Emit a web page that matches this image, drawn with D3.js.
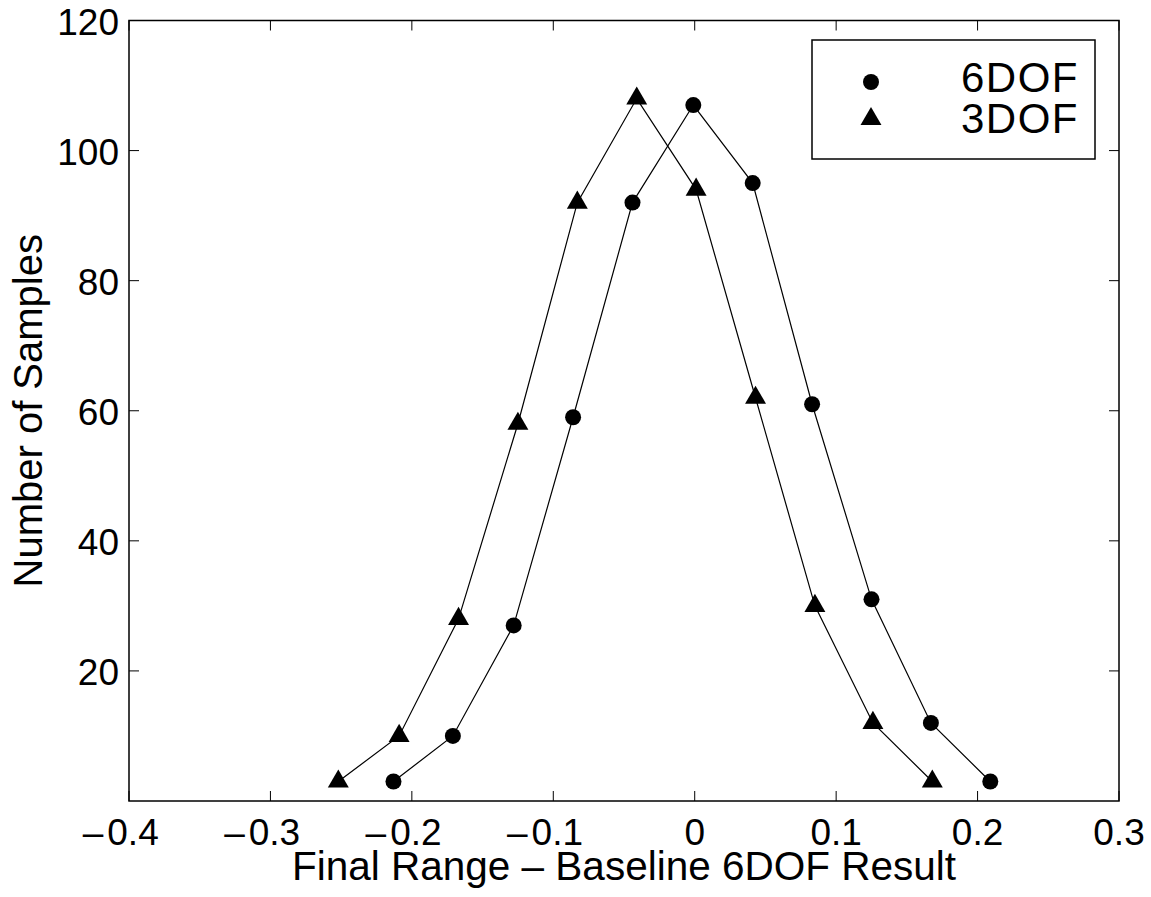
<!DOCTYPE html>
<html>
<head>
<meta charset="utf-8">
<script src="https://cdn.jsdelivr.net/npm/d3@7"></script>
<style>
  html, body { margin: 0; padding: 0; background: #fff; }
  svg { display: block; font-family: "Liberation Sans", Arial, Helvetica, sans-serif; }
</style>
</head>
<body>
<svg id="chart" width="1151" height="897"></svg>
<script>
// Histogram bin centres and counts for the two simulation models
const x6dof = [-0.213, -0.171, -0.128, -0.086, -0.044, -0.001, 0.041, 0.083, 0.125, 0.167, 0.209];
const y6dof = [3, 10, 27, 59, 92, 107, 95, 61, 31, 12, 3];
const x3dof = [-0.252, -0.209, -0.167, -0.125, -0.083, -0.041, 0.001, 0.043, 0.085, 0.126, 0.168];
const y3dof = [3, 10, 28, 58, 92, 108, 94, 62, 30, 12, 3];

const xTicks = [-0.4, -0.3, -0.2, -0.1, 0, 0.1, 0.2, 0.3];
const yTicks = [20, 40, 60, 80, 100, 120];
const seriesNames = ["6DOF", "3DOF"];

const svg = d3.select("#chart");
const L = 129, R = 1119, T = 20.5, B = 801;

const x = d3.scaleLinear().domain([-0.4, 0.3]).range([L, R]);
const y = d3.scaleLinear().domain([0, 120]).range([B, T]);

const tickLen = 10;
const numPart = v => (v === 0 ? "0" : d3.format(".1f")(Math.abs(v)));

// frame ticks (inward on all four sides)
const g = svg.append("g");
xTicks.forEach(v => {
  g.append("line").attr("x1", x(v)).attr("x2", x(v)).attr("y1", B).attr("y2", B - tickLen)
    .attr("stroke", "#000").attr("stroke-width", 1);
  g.append("line").attr("x1", x(v)).attr("x2", x(v)).attr("y1", T).attr("y2", T + tickLen)
    .attr("stroke", "#000").attr("stroke-width", 1);
  // the number is centred on the tick; a leading dash hangs to its left
  const t = g.append("text").attr("y", 845).attr("font-size", 37);
  if (v < 0) t.append("tspan").attr("dx", 0).text("\u2013");
  const num = t.append("tspan").attr("dx", v < 0 ? 4 : 0).text(numPart(v));
  const full = t.node().getComputedTextLength();
  const nl = num.node().getComputedTextLength();
  t.attr("x", x(v) - (full - nl) - nl / 2);
});
yTicks.forEach(v => {
  g.append("line").attr("x1", L).attr("x2", L + tickLen).attr("y1", y(v)).attr("y2", y(v))
    .attr("stroke", "#000").attr("stroke-width", 1);
  g.append("line").attr("x1", R).attr("x2", R - tickLen).attr("y1", y(v)).attr("y2", y(v))
    .attr("stroke", "#000").attr("stroke-width", 1);
  g.append("text").attr("x", 119).attr("y", y(v) + 14).attr("text-anchor", "end")
    .attr("font-size", 37).text(v);
});

// axes box
g.append("rect").attr("x", L).attr("y", T).attr("width", R - L).attr("height", B - T)
  .attr("fill", "none").attr("stroke", "#000").attr("stroke-width", 1.5);

// axis titles
svg.append("text").attr("x", (L + R) / 2).attr("y", 880).attr("text-anchor", "middle")
  .attr("font-size", 40.5).text("Final Range \u2013 Baseline 6DOF Result");
svg.append("text").attr("transform", `translate(42,${(T + B) / 2}) rotate(-90)`)
  .attr("text-anchor", "middle").attr("font-size", 40).text("Number of Samples");

// series lines and markers
const line = d3.line().x(d => x(d[0])).y(d => y(d[1]));
const pts6 = x6dof.map((v, i) => [v, y6dof[i]]);
const pts3 = x3dof.map((v, i) => [v, y3dof[i]]);

svg.append("path").attr("d", line(pts6)).attr("fill", "none").attr("stroke", "#000").attr("stroke-width", 1.2);
svg.append("path").attr("d", line(pts3)).attr("fill", "none").attr("stroke", "#000").attr("stroke-width", 1.2);

const tri = d3.symbol().type(d3.symbolTriangle).size(190);

svg.append("g").selectAll("circle").data(pts6).join("circle")
  .attr("cx", d => x(d[0])).attr("cy", d => y(d[1])).attr("r", 8).attr("fill", "#000");
svg.append("g").selectAll("path").data(pts3).join("path")
  .attr("d", tri).attr("transform", d => `translate(${x(d[0])},${y(d[1])})`).attr("fill", "#000");

// legend
const lg = svg.append("g");
lg.append("rect").attr("x", 812).attr("y", 40).attr("width", 283).attr("height", 119)
  .attr("fill", "#fff").attr("stroke", "#000").attr("stroke-width", 1.5);
lg.append("circle").attr("cx", 871).attr("cy", 82).attr("r", 8).attr("fill", "#000");
lg.append("path").attr("d", tri).attr("transform", "translate(871,119)").attr("fill", "#000");
[92, 133].forEach((by, i) => {
  lg.append("text").attr("x", 1079).attr("y", by).attr("text-anchor", "end")
    .attr("font-size", 42).attr("letter-spacing", 1.5).text(seriesNames[i]);
});
</script>
</body>
</html>
